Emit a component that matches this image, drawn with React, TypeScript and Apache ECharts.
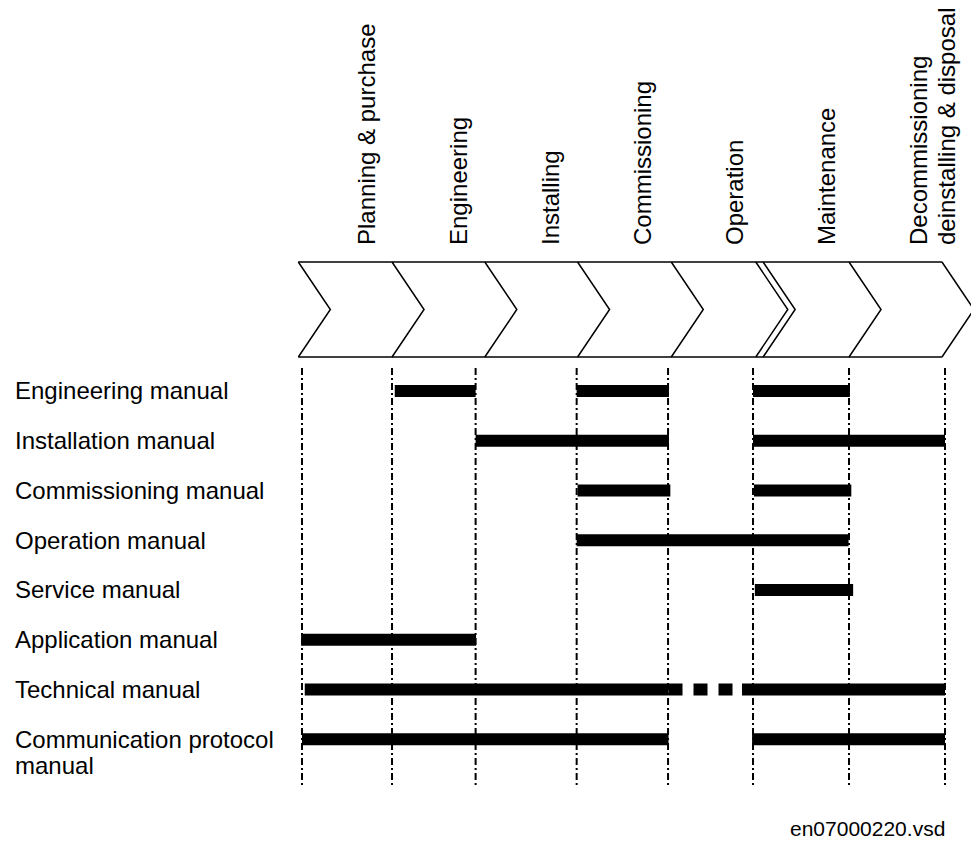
import React, { useEffect, useRef } from "react";
import * as echarts from "echarts";

// Life-cycle phases (top, rotated labels)
const phases = [
  "Planning & purchase",
  "Engineering",
  "Installing",
  "Commissioning",
  "Operation",
  "Maintenance",
  "Decommissioning\ndeinstalling & disposal",
];

// Manuals (rows)
const manuals = [
  "Engineering manual",
  "Installation manual",
  "Commissioning manual",
  "Operation manual",
  "Service manual",
  "Application manual",
  "Technical manual",
  "Communication protocol\nmanual",
];

// Phase boundaries on the life-cycle scale (0 = start of planning, 7 = end of disposal)
const phaseBounds = [0, 0.98, 1.89, 2.99, 3.985, 4.91, 5.955, 7];
// Edges of the chevron arrows on the same scale
const chevronEdges = [-0.04, 0.98, 1.99, 3.0, 4.02, 4.94, 5.02, 5.955, 6.967];

// Spans in which each manual is used, [start, end] on the life-cycle scale
const engineeringSpans = [[1.01, 1.89], [2.99, 3.995], [4.91, 5.965]];
const installationSpans = [[1.89, 3.995], [4.91, 7.0]];
const commissioningSpans = [[3.0, 4.01], [4.92, 5.98]];
const operationSpans = [[2.99, 5.95]];
const serviceSpans = [[4.93, 6.0]];
const applicationSpans = [[-0.01, 1.895]];
const technicalSpans = [[0.03, 3.99], [4.79, 7.0]];
const technicalInterimSpans = [[3.99, 4.79]]; // dotted part
const protocolSpans = [[0, 3.99], [4.9, 7.0]];

const docId = "en07000220.vsd";

const FONT = '"Liberation Sans", Arial, Helvetica, sans-serif';

export default function App() {
  const ref = useRef<HTMLDivElement>(null);

  useEffect(() => {
    document.body.style.margin = "0";
    const chart = echarts.init(ref.current as HTMLDivElement, null, { renderer: "svg" });

    const spanRows = [
      engineeringSpans,
      installationSpans,
      commissioningSpans,
      operationSpans,
      serviceSpans,
      applicationSpans,
      technicalSpans,
      protocolSpans,
    ];
    const solidData: number[][] = [];
    spanRows.forEach((spans, row) =>
      spans.forEach(([s, e]) => solidData.push([row, s, e]))
    );
    const techRow = 6;
    const dashedData = technicalInterimSpans.map(([s, e]) => [techRow, s, e]);

    const barRender = (dashed: boolean) => (params: any, api: any) => {
      const row = api.value(0);
      const a = api.coord([api.value(1), row]);
      const b = api.coord([api.value(2), row]);
      if (dashed) {
        return {
          type: "line",
          shape: { x1: a[0], y1: a[1], x2: b[0], y2: b[1] },
          style: { stroke: "#000", lineWidth: 12, lineDash: [14, 11], lineCap: "butt" },
        };
      }
      return {
        type: "rect",
        shape: { x: a[0], y: a[1] - 6, width: b[0] - a[0], height: 12 },
        style: { fill: "#000" },
      };
    };

    const option: any = {
      animation: false,
      backgroundColor: "#fff",
      title: {
        text: docId,
        left: 790,
        top: 818,
        padding: 0,
        textStyle: { fontSize: 21, fontWeight: "normal", color: "#000", fontFamily: FONT },
      },
      grid: [
        { left: 302, right: 26, top: 262, height: 95 }, // chevrons
        { left: 321, right: 7, top: 253, height: 1 }, // phase labels
        { left: 302, right: 26, top: 366, height: 398 }, // manual rows
        { left: 302, right: 26, top: 368, bottom: 61 }, // phase boundary lines
      ],
      xAxis: [
        { gridIndex: 0, type: "value", min: 0, max: 7, show: false },
        {
          gridIndex: 1,
          type: "category",
          position: "top",
          data: phases,
          axisLine: { show: false },
          axisTick: { show: false },
          splitLine: { show: false },
          axisLabel: {
            interval: 0,
            rotate: 90,
            margin: 8,
            fontSize: 24,
            lineHeight: 28,
            color: "#000",
            fontFamily: FONT,
            hideOverlap: false,
            formatter: (v: string) => (v.includes("\n") ? "\n" + v : v),
          },
        },
        { gridIndex: 2, type: "value", min: 0, max: 7, show: false },
        { gridIndex: 3, type: "value", min: 0, max: 7, show: false },
      ],
      yAxis: [
        { gridIndex: 0, type: "value", min: 0, max: 1, show: false },
        { gridIndex: 1, type: "value", min: 0, max: 1, show: false },
        {
          gridIndex: 2,
          type: "category",
          data: manuals,
          inverse: true,
          axisLine: { show: false },
          axisTick: { show: false },
          splitLine: { show: false },
          axisLabel: {
            interval: 0,
            align: "left",
            margin: 287,
            fontSize: 24,
            lineHeight: 26,
            color: "#000",
            fontFamily: FONT,
            formatter: (v: string) => (v.includes("\n") ? "\n" + v : v),
          },
        },
        { gridIndex: 3, type: "value", min: 0, max: 1, show: false },
      ],
      series: [
        {
          name: "chevron band",
          type: "custom",
          xAxisIndex: 0,
          yAxisIndex: 0,
          data: [[chevronEdges[0], chevronEdges[chevronEdges.length - 1]]],
          renderItem: (params: any, api: any) => {
            const x1 = api.coord([api.value(0), 0])[0];
            const x2 = api.coord([api.value(1), 0])[0];
            const yTop = api.coord([0, 1])[1];
            const yBot = api.coord([0, 0])[1];
            const st = { stroke: "#000", lineWidth: 1.5 };
            return {
              type: "group",
              children: [
                { type: "line", shape: { x1, y1: yTop, x2, y2: yTop }, style: st },
                { type: "line", shape: { x1, y1: yBot, x2, y2: yBot }, style: st },
              ],
            };
          },
        },
        {
          name: "chevrons",
          type: "custom",
          xAxisIndex: 0,
          yAxisIndex: 0,
          data: chevronEdges.map((v) => [v]),
          renderItem: (params: any, api: any) => {
            const x = api.coord([api.value(0), 0])[0];
            const yTop = api.coord([0, 1])[1];
            const yBot = api.coord([0, 0])[1];
            const tip = (yBot - yTop) * 0.337;
            return {
              type: "polyline",
              shape: { points: [[x, yTop], [x + tip, (yTop + yBot) / 2], [x, yBot]] },
              style: { stroke: "#000", lineWidth: 1.5, fill: null },
            };
          },
        },
        {
          name: "phase boundaries",
          type: "custom",
          xAxisIndex: 3,
          yAxisIndex: 3,
          data: phaseBounds.map((v) => [v]),
          renderItem: (params: any, api: any) => {
            const top = api.coord([api.value(0), 1]);
            const bot = api.coord([api.value(0), 0]);
            return {
              type: "line",
              shape: { x1: top[0], y1: top[1], x2: bot[0], y2: bot[1] },
              style: { stroke: "#000", lineWidth: 2, lineDash: [7, 3, 2, 3] },
            };
          },
        },
        {
          name: "manual use",
          type: "custom",
          xAxisIndex: 2,
          yAxisIndex: 2,
          dimensions: ["row", "start", "end"],
          encode: { y: 0, x: [1, 2] },
          data: solidData,
          renderItem: barRender(false),
        },
        {
          name: "manual use (interim)",
          type: "custom",
          xAxisIndex: 2,
          yAxisIndex: 2,
          dimensions: ["row", "start", "end"],
          encode: { y: 0, x: [1, 2] },
          data: dashedData,
          renderItem: barRender(true),
        },
      ],
    };

    chart.setOption(option);
    return () => chart.dispose();
  }, []);

  return <div ref={ref} style={{ width: 971, height: 847 }} />;
}
